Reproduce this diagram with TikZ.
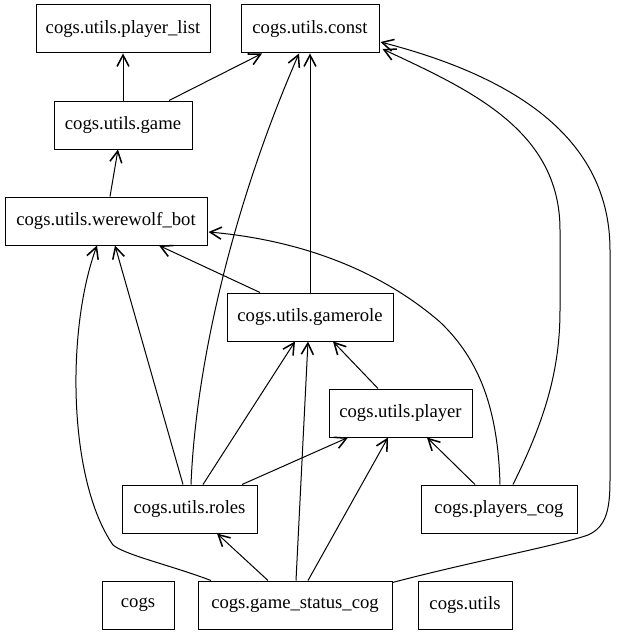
\documentclass[tikz,border=0pt]{standalone}
\usepackage{fontspec}
\setmainfont{Liberation Serif}
\usetikzlibrary{arrows.meta,calc}
\begin{document}
\begin{tikzpicture}[x=0.75pt,y=-0.75pt,
  mod/.style={draw,line width=0.75pt,minimum height=36pt,inner sep=0pt,font=\fontsize{14}{16}\selectfont,anchor=center},
  dep/.style={line width=0.75pt,-{Straight Barb[length=8.5pt,width=9pt,line width=1.15pt]}}]
\useasboundingbox (0,0) rectangle (620,635);
% modules
\node[mod,minimum width=130.5pt] (pl) at (123,29) {cogs.utils.player\_list};
\node[mod,minimum width=103.5pt] (const) at (310,29) {cogs.utils.const};
\node[mod,minimum width=103.5pt] (game) at (123,125) {cogs.utils.game};
\node[mod,minimum width=151.5pt] (wb) at (106,221) {cogs.utils.werewolf\_bot};
\node[mod,minimum width=124.5pt] (gr) at (310,317) {cogs.utils.gamerole};
\node[mod,minimum width=107.25pt] (player) at (400.5,413) {cogs.utils.player};
\node[mod,minimum width=101.25pt] (roles) at (189.5,509) {cogs.utils.roles};
\node[mod,minimum width=117pt] (pc) at (499,509) {cogs.players\_cog};
\node[mod,minimum width=54pt] (cogs) at (138,605) {cogs};
\node[mod,minimum width=145.5pt] (gsc) at (295,605) {cogs.game\_status\_cog};
\node[mod,minimum width=70.5pt] (cu) at (465,605) {cogs.utils};
% dependencies
\draw[dep] (game.north) -- (pl.south);
\draw[dep] ($(game.north)+(46,0)$) -- ($(const.south)+(-48,0)$);
\draw[dep] ($(wb.north)+(4,0)$) -- ($(game.south)+(-5,0)$);
\draw[dep] ($(gr.north)+(-50,0)$) -- ($(wb.south)+(53,0)$);
\draw[dep] (gr.north) -- (const.south);
\draw[dep] ($(roles.north)+(1.5,0)$) .. controls (196,360) and (235,200) .. ($(const.south)+(-11,0)$);
\draw[dep] ($(roles.north)+(-6.5,0)$) -- ($(wb.south)+(9,0)$);
\draw[dep] ($(roles.north)+(13.5,0)$) -- ($(gr.south)+(-15,0)$);
\draw[dep] ($(roles.north)+(52.5,0)$) -- ($(player.south)+(-52.5,0)$);
\draw[dep] ($(player.north)+(-22.5,0)$) -- ($(gr.south)+(23,0)$);
\draw[dep] ($(gsc.north)+(-27,0)$) -- ($(roles.south)+(27.5,0)$);
\draw[dep] ($(gsc.north)+(1,0)$) -- ($(gr.south)+(-2,0)$);
\draw[dep] ($(gsc.north)+(13,0)$) -- ($(player.south)+(-12.5,0)$);
\draw[dep] ($(gsc.north)+(-84,0)$) .. controls (170,565) and (125,555) .. (113,545) .. controls (68,480) and (66,330) .. ($(wb.south)+(-9,0)$);
\draw[dep] ($(gsc.north east)+(0,2)$) .. controls (470,562) and (560,545) .. (588,535) .. controls (606,527) and (610,510) .. (610,480) -- (610,250) .. controls (610,130) and (500,73) .. ($(const.east)+(1,13)$);
\draw[dep] ($(pc.north)+(14,0)$) .. controls (545,420) and (560,370) .. (560,310) -- (560,230) .. controls (560,130) and (470,90) .. ($(const.east)+(3,20)$);
\draw[dep] ($(pc.north)+(-24,0)$) -- ($(player.south)+(26.5,0)$);
\draw[dep] ($(pc.north)+(1,0)$) .. controls (498,410) and (480,360) .. (440,322) .. controls (380,270) and (300,240) .. ($(wb.east)+(1,11)$);
\end{tikzpicture}
\end{document}
